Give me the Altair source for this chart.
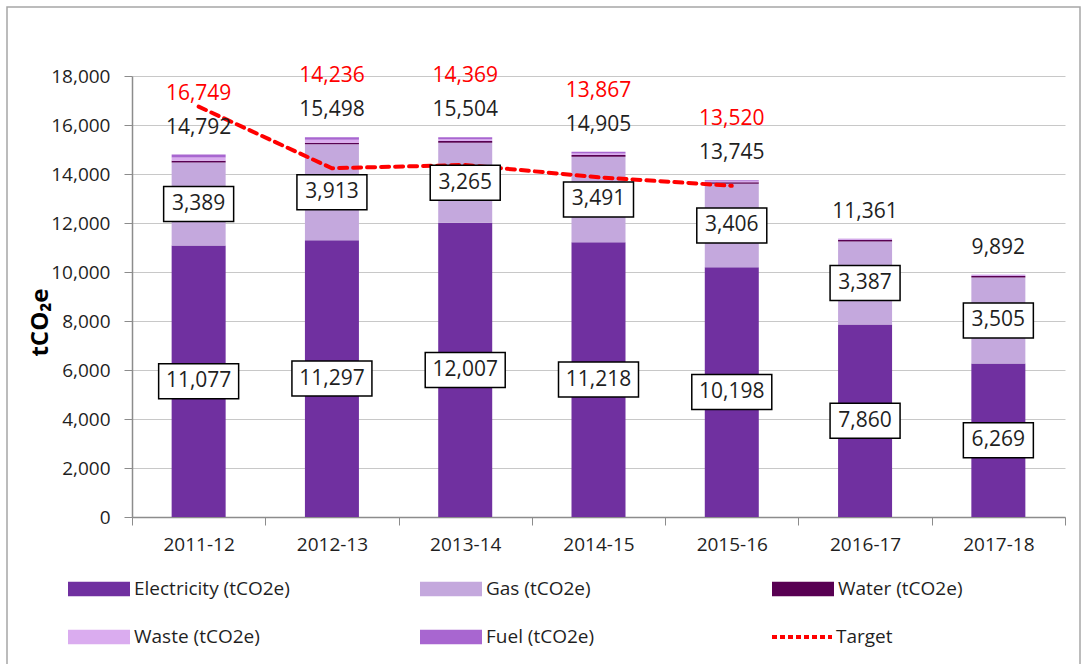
import altair as alt
import pandas as pd

years = ["2011-12", "2012-13", "2013-14", "2014-15", "2015-16", "2016-17", "2017-18"]
electricity = [11077, 11297, 12007, 11218, 10198, 7860, 6269]
gas = [3389, 3913, 3265, 3491, 3406, 3387, 3505]
water = [70, 70, 70, 65, 60, 55, 60]
waste = [140, 118, 80, 66, 41, 30, 30]
fuel = [116, 100, 82, 65, 40, 29, 28]
totals = [14792, 15498, 15504, 14905, 13745, 11361, 9892]
target_years = ["2011-12", "2012-13", "2013-14", "2014-15", "2015-16"]
target = [16749, 14236, 14369, 13867, 13520]
y_ticks = [0, 2000, 4000, 6000, 8000, 10000, 12000, 14000, 16000, 18000]

series_names = ["Electricity (tCO2e)", "Gas (tCO2e)", "Water (tCO2e)", "Waste (tCO2e)", "Fuel (tCO2e)"]
series_colors = ["#7030A0", "#C4A8DD", "#580052", "#DAACEF", "#A866D0"]
# legend fills column by column (2 rows), so list entries in that order
legend_order = ["Electricity (tCO2e)", "Waste (tCO2e)", "Gas (tCO2e)", "Fuel (tCO2e)", "Water (tCO2e)"]
legend_colors = [series_colors[series_names.index(s)] for s in legend_order]

FONT = "Open Sans"
TXT = "#1F1F1F"

rows = []
for i, yr in enumerate(years):
    for k, (name, vals) in enumerate(zip(series_names, [electricity, gas, water, waste, fuel])):
        rows.append({"year": yr, "series": name, "value": vals[i], "order": k})
bars_df = pd.DataFrame(rows)

NARROW = "M-0.875,-0.4375L0.875,-0.4375L0.875,0.4375L-0.875,0.4375Z"
WIDE = "M-1,-0.4375L1,-0.4375L1,0.4375L-1,0.4375Z"
box_rows = []
for i, yr in enumerate(years):
    e, g = electricity[i], gas[i]
    box_rows.append({"year": yr, "mid": e / 2, "label": f"{e:,}"})
    box_rows.append({"year": yr, "mid": e + g / 2, "label": f"{g:,}"})
box_df = pd.DataFrame(box_rows)
box_df["box"] = box_df["label"].map(lambda s: WIDE if len(s) > 5 else NARROW)

total_df = pd.DataFrame({"year": years, "total": totals})
target_df = pd.DataFrame({"year": target_years, "target": target,
                          "total": totals[:len(target_years)], "name": "Target"})

x_axis = alt.Axis(title=None, labelAngle=0, tickBand="extent", tickSize=8,
                  labelPadding=10, grid=False, labelFontSize=19)
x_scale = alt.Scale(domain=years, paddingInner=0, paddingOuter=0)
y_scale = alt.Scale(domain=[0, 18000], nice=False, zero=True)
y_axis = alt.Axis(values=y_ticks, labelExpr="format(datum.value, ',')", tickSize=8,
                  labelPadding=14, grid=True, title="tCO₂e", titleFont=FONT,
                  titleFontSize=24, titleFontWeight="bold", titleColor="#000000",
                  titleX=-92, titleY=246, titleAlign="center", titleBaseline="middle")


def X():
    return alt.X("year:N", sort=years, scale=x_scale, axis=x_axis)


def Y(field, **kw):
    return alt.Y(field, scale=y_scale, axis=y_axis, title="tCO₂e", **kw)


SWATCH = "M-1,-0.23L1,-0.23L1,0.23L-1,0.23Z"

bars = alt.Chart(bars_df).mark_bar(size=54).encode(
    x=X(),
    y=Y("value:Q", stack="zero"),
    color=alt.Color("series:N", scale=alt.Scale(domain=legend_order, range=legend_colors),
                    legend=alt.Legend(title=None, orient="none", legendX=-64, legendY=503,
                                      columns=3, gridAlign="all", columnPadding=130,
                                      rowPadding=28, symbolType=SWATCH, symbolSize=3844,
                                      symbolStrokeWidth=0, symbolOpacity=1, clipHeight=20,
                                      labelFont=FONT, labelFontSize=19, labelColor=TXT,
                                      labelOffset=4, labelLimit=400)),
    order=alt.Order("order:Q"),
)

line = alt.Chart(target_df).mark_line(strokeWidth=4, strokeDash=[8, 6], strokeCap="round").encode(
    x=X(),
    y=Y("target:Q"),
    stroke=alt.Stroke("name:N", scale=alt.Scale(domain=["Target"], range=["#FF0000"]),
                      legend=alt.Legend(title=None, orient="none", legendX=638, legendY=551,
                                        symbolType="stroke", symbolSize=3600,
                                        symbolStrokeWidth=4, symbolDash=[5, 3],
                                        clipHeight=20, labelFont=FONT, labelFontSize=19,
                                        labelColor=TXT, labelOffset=2, labelLimit=400)),
)

boxes = alt.Chart(box_df).mark_point(filled=True, fill="white", stroke="black", strokeWidth=1.5,
                                     opacity=1, fillOpacity=1, strokeOpacity=1, size=6400).encode(
    x=X(),
    y=Y("mid:Q"),
    shape=alt.Shape("box:N", scale=None, legend=None),
)

box_text = alt.Chart(box_df).mark_text(font=FONT, fontSize=21, color=TXT, baseline="middle").encode(
    x=X(),
    y=Y("mid:Q"),
    text="label:N",
)

total_text = alt.Chart(total_df).mark_text(font=FONT, fontSize=21, color=TXT, baseline="middle",
                                           dy=-27).encode(
    x=X(),
    y=Y("total:Q"),
    text=alt.Text("total:Q", format=","),
)

target_text = alt.Chart(target_df).mark_text(font=FONT, fontSize=21, color="#FF0000",
                                             baseline="middle", dy=-61).encode(
    x=X(),
    y=Y("total:Q"),
    text=alt.Text("target:Q", format=","),
)

frame = alt.Chart(pd.DataFrame({"a": [0]})).mark_rect(fillOpacity=0, stroke="#A6A6A6",
                                                      strokeWidth=1.5).encode(
    x=alt.value(-125), x2=alt.value(948), y=alt.value(-69), y2=alt.value(620),
)

chart = alt.layer(bars, line, boxes, box_text, total_text, target_text, frame).properties(
    width=933, height=441,
    padding={"left": 132, "top": 76, "right": 20, "bottom": 147},
    autosize=alt.AutoSizeParams(type="none"),
).configure_axis(
    labelFont=FONT, labelFontSize=19, labelColor=TXT, domainColor="#8C8C8C",
    tickColor="#8C8C8C", gridColor="#C8C8C8", domainWidth=1.5,
).configure_view(stroke=None)

chart.save("out.html", embed_options={"renderer": "svg", "actions": False})
